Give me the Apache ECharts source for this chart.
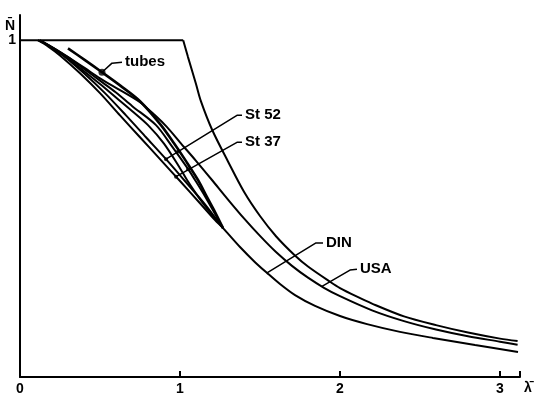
<!DOCTYPE html>
<html>
<head>
<meta charset="utf-8">
<script src="https://cdn.jsdelivr.net/npm/echarts@6/dist/echarts.min.js"></script>
<style>html,body{margin:0;padding:0;background:#fff}#c{width:542px;height:401px}</style>
</head>
<body>
<div id="c"></div>
<script>
// tick labels
const xTicks = [0, 1, 2, 3];
const yTicks = [1];
const xName = "\u03BB\u0304";
const yName = "N\u0304";

// curves [lambda, N]
const eulerPlateau = [[0,1],[1.02,1]];
const euler = [[1.02,1],[1.05,0.95],[1.1,0.87],[1.13,0.82],[1.2,0.735],[1.3,0.64],[1.4,0.55],[1.5,0.478],[1.6,0.418],[1.72,0.36],[1.8,0.328],[1.94,0.282],[2.0,0.264],[2.1,0.24],[2.2,0.218],[2.4,0.18],[2.6,0.154],[2.8,0.132],[3.0,0.114],[3.11,0.107]];
const usa = [[0.125,1],[0.2125,0.976],[0.3,0.95],[0.406,0.917],[0.5,0.887],[0.625,0.852],[0.75,0.816],[0.844,0.777],[0.919,0.742],[1.0,0.697],[1.1,0.642],[1.2,0.585],[1.3,0.527],[1.4,0.471],[1.5,0.419],[1.6,0.371],[1.7,0.33],[1.8,0.295],[1.9,0.265],[2.0,0.24],[2.2,0.198],[2.4,0.166],[2.6,0.141],[2.8,0.121],[3.0,0.105],[3.11,0.096]];
const din = [[0.1125,1],[0.175,0.982],[0.25,0.955],[0.375,0.902],[0.5,0.843],[0.625,0.777],[0.75,0.712],[0.875,0.647],[1.0,0.582],[1.125,0.516],[1.219,0.466],[1.269,0.442],[1.375,0.386],[1.469,0.341],[1.544,0.309],[1.625,0.276],[1.719,0.243],[1.844,0.211],[2.0,0.181],[2.169,0.157],[2.375,0.134],[2.581,0.116],[2.844,0.095],[3.1125,0.074]];
const st52a = [[0.1125,1],[0.1875,0.982],[0.269,0.955],[0.4,0.902],[0.531,0.843],[0.6625,0.777],[0.7875,0.712],[0.9125,0.647],[1.031,0.582],[1.15,0.516],[1.231,0.466],[1.269,0.442]];
const st37b = [[0.125,1],[0.2,0.98],[0.3,0.95],[0.4,0.915],[0.5,0.88],[0.6,0.845],[0.7,0.805],[0.85,0.748],[0.95,0.685],[1.05,0.618],[1.094,0.585],[1.156,0.537],[1.2125,0.49],[1.269,0.442]];
const mid = [[0.125,1],[0.2,0.978],[0.3,0.945],[0.4,0.908],[0.5,0.87],[0.6,0.83],[0.7,0.79],[0.8,0.748],[0.9,0.693],[1.0,0.62],[1.044,0.585],[1.125,0.528],[1.2,0.482],[1.269,0.442]];
const tubes = [[0.3,0.976],[0.406,0.941],[0.5125,0.905],[0.625,0.866],[0.75,0.819],[0.881,0.748],[0.9625,0.694],[1.0375,0.641],[1.1125,0.585],[1.169,0.534],[1.219,0.49],[1.269,0.442]];

// annotation leaders [lambda, N]
const tubesLeader = [[0.5125,0.905],[0.575,0.932],[0.6375,0.935]];
const st52Leader = [[0.9125,0.647],[1.356,0.777],[1.3875,0.777]];
const st37Leader = [[0.975,0.595],[1.356,0.697],[1.3875,0.697]];
const dinLeader = [[1.544,0.309],[1.85,0.398],[1.894,0.398]];
const usaLeader = [[1.8875,0.269],[2.0625,0.3175],[2.106,0.32]];
const bigDots = [[0.5125,0.905]];
const smallDots = [[0.9125,0.647],[0.9875,0.67],[0.975,0.595],[1.05,0.617]];

const FONT = 'Liberation Sans';
function curve(name, data, sm, w) {
  return {name, type:'line', data, symbol:'none', smooth:sm === undefined ? 0.3 : sm, z:3,
    lineStyle:{color:'#000', width:w || 2}};
}
function leader(name, data) {
  return {name, type:'line', data, symbol:'none', z:4,
    lineStyle:{color:'#000', width:1.5},
    endLabel:{show:true, formatter:name, color:'#000', fontFamily:FONT, fontWeight:'bold', fontSize:15, distance:3}};
}
const chart = echarts.init(document.getElementById('c'), null, {renderer:'canvas'});
chart.setOption({
  animation:false,
  backgroundColor:'#fff',
  grid:{left:20, right:22, top:15, bottom:24, containLabel:false},
  xAxis:{type:'value', min:0, max:3.125, interval:1,
    name:xName, nameLocation:'end', nameGap:4,
    nameTextStyle:{color:'#000', fontFamily:FONT, fontWeight:'bold', fontSize:14, verticalAlign:'top', padding:[4,0,0,0]},
    axisLine:{show:true, lineStyle:{color:'#000', width:2}},
    axisTick:{show:true, inside:true, length:6, lineStyle:{color:'#000', width:2}},
    axisLabel:{color:'#000', fontFamily:FONT, fontWeight:'bold', fontSize:14, margin:5,
      formatter:v => xTicks.includes(v) ? String(v) : ''},
    splitLine:{show:false}},
  yAxis:{type:'value', min:0, max:1.075, interval:1,
    name:yName, nameLocation:'end', nameGap:-4,
    nameTextStyle:{color:'#000', fontFamily:FONT, fontWeight:'bold', fontSize:14, align:'right', verticalAlign:'top', padding:[0,5,0,0]},
    axisLine:{show:true, lineStyle:{color:'#000', width:2}},
    axisTick:{show:false},
    axisLabel:{color:'#000', fontFamily:FONT, fontWeight:'bold', fontSize:14, margin:4,
      formatter:v => yTicks.includes(v) ? String(v) : ''},
    splitLine:{show:false}},
  series:[
    curve('Euler plateau', eulerPlateau, false),
    curve('Euler', euler),
    curve('USA', usa),
    curve('DIN', din),
    curve('St 52 a', st52a),
    curve('St 37 b', st37b),
    curve('mid', mid),
    curve('tubes', tubes, 0.3, 2.6),
    leader('tubes', tubesLeader),
    leader('St 52', st52Leader),
    leader('St 37', st37Leader),
    leader('DIN', dinLeader),
    leader('USA', usaLeader),
    {type:'scatter', data:bigDots, symbolSize:7, itemStyle:{color:'#000'}, z:5},
    {type:'scatter', data:smallDots, symbolSize:4, itemStyle:{color:'#000'}, z:5}
  ]
});
</script>
</body>
</html>
